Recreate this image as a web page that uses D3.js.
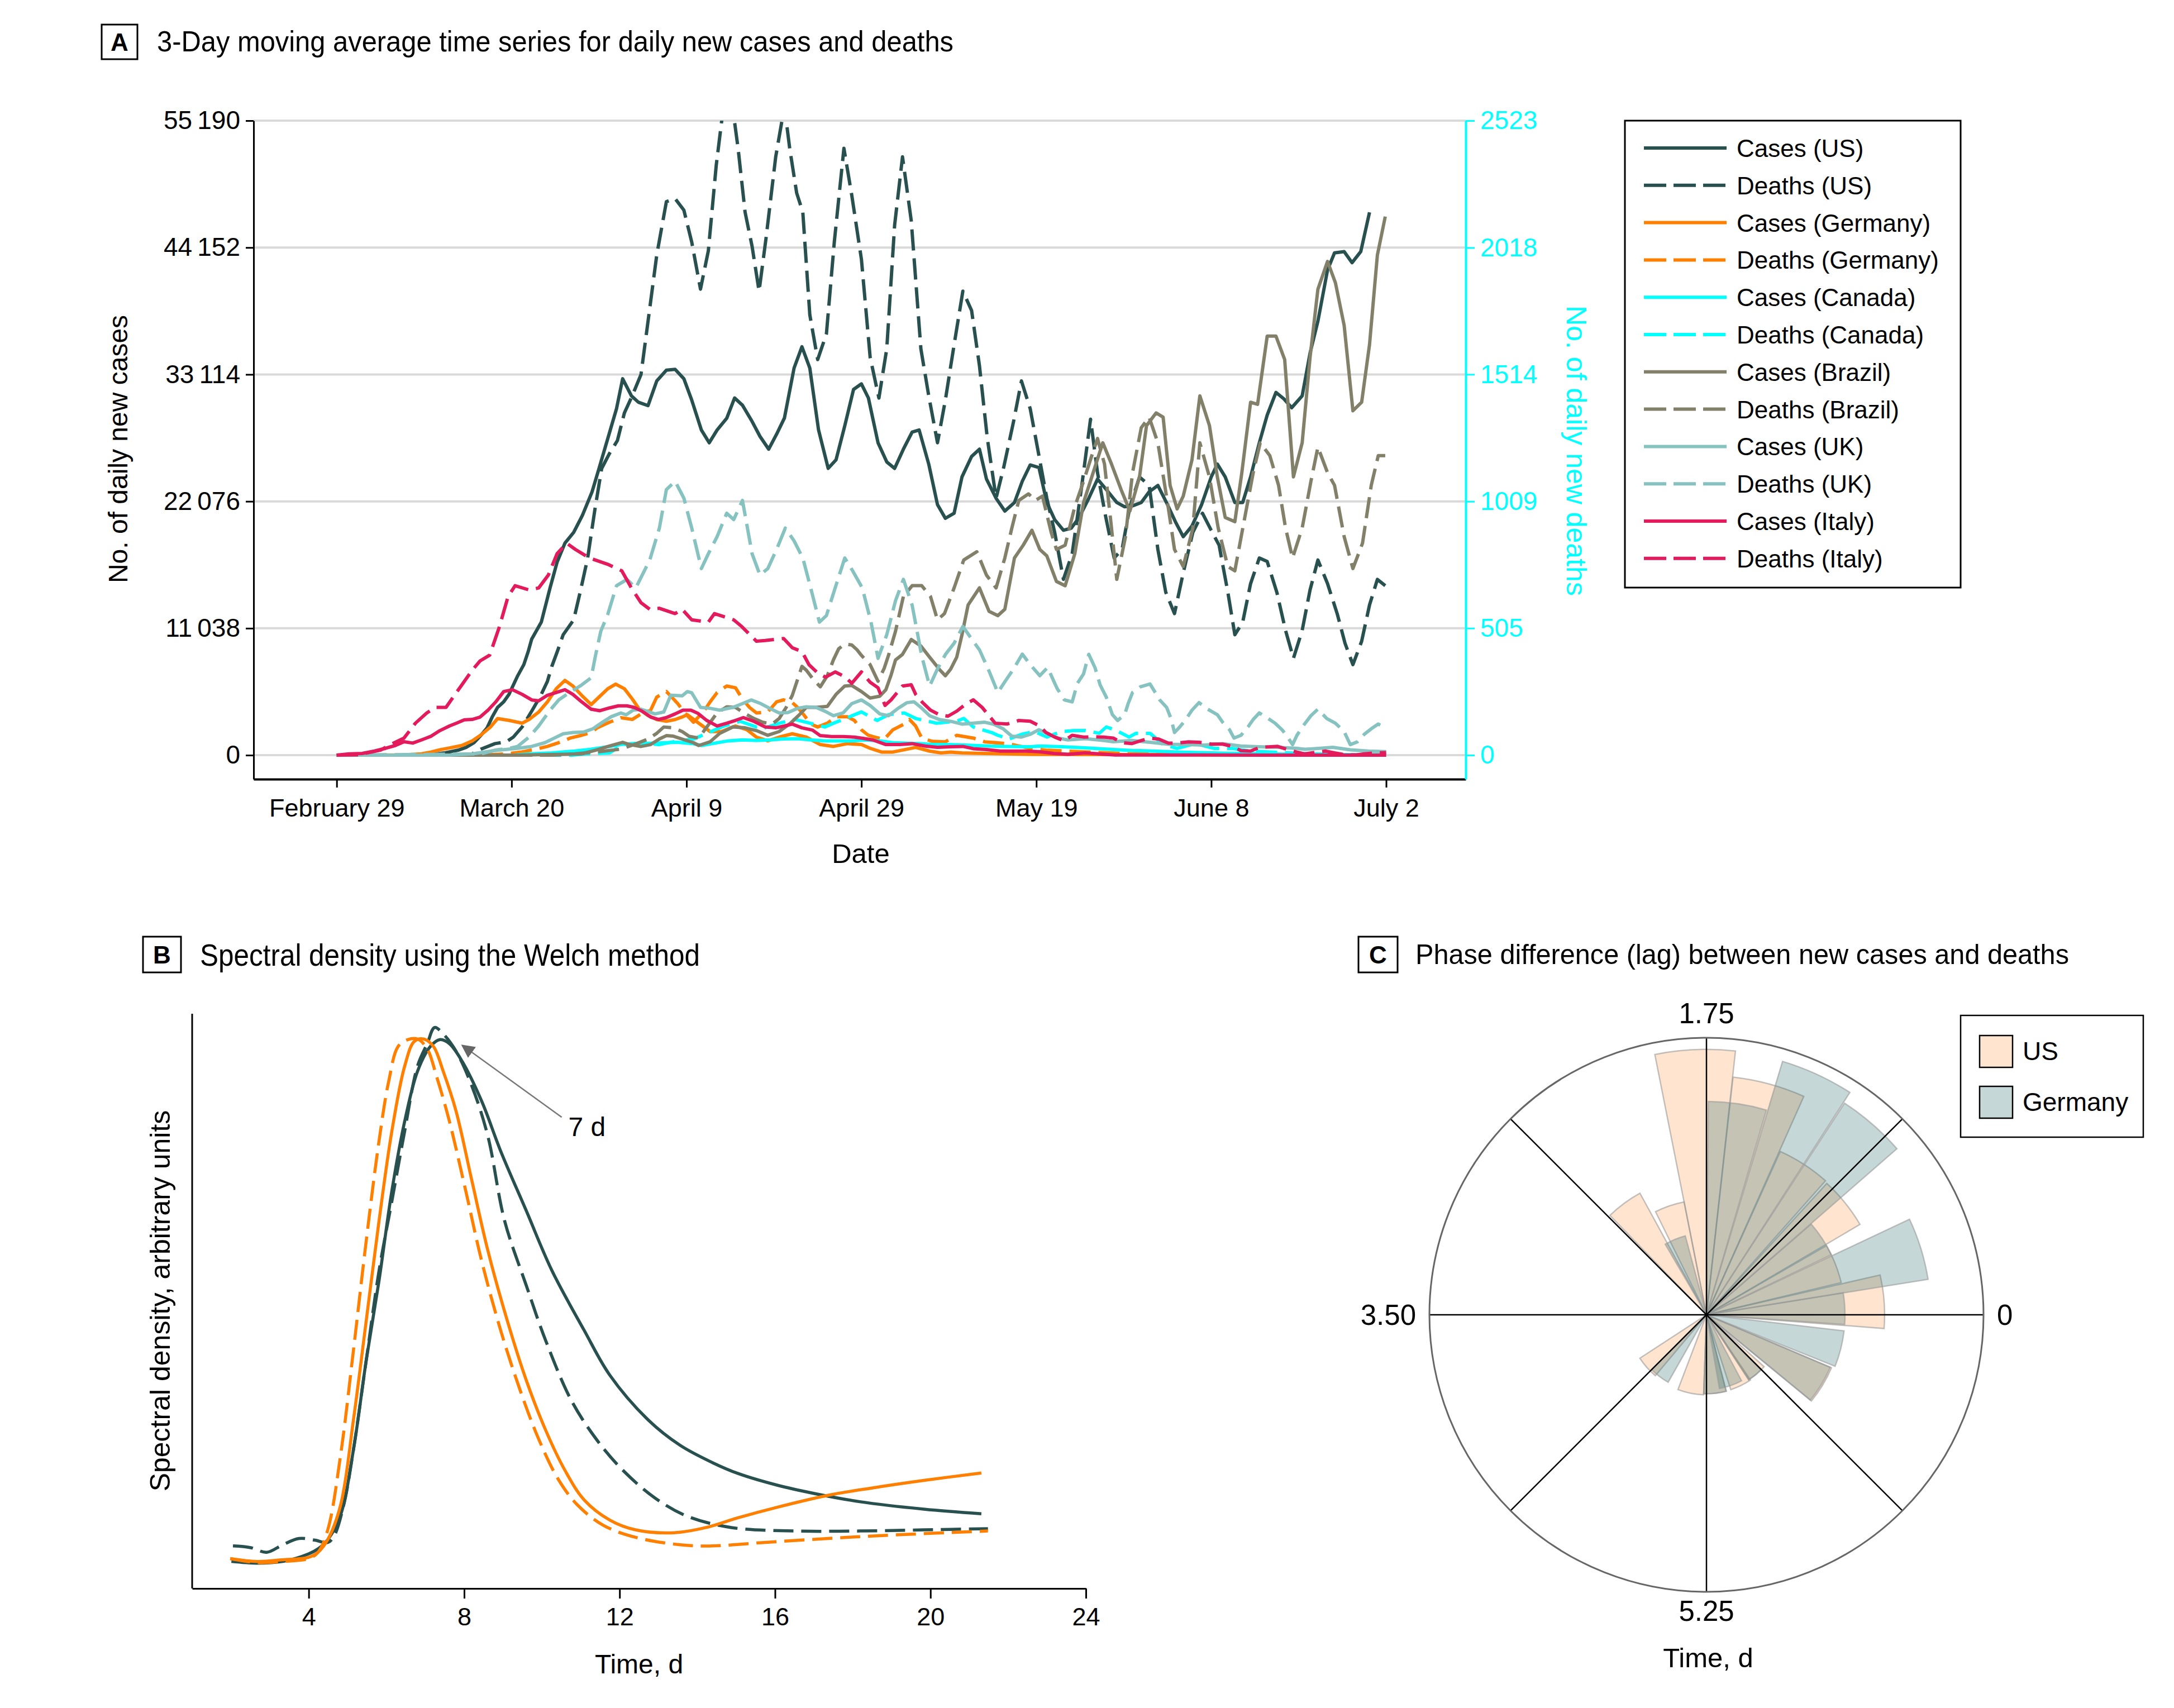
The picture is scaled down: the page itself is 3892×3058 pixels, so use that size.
<!DOCTYPE html>
<html><head><meta charset="utf-8">
<script src="https://cdn.jsdelivr.net/npm/d3@7"></script>
<style>
html,body{margin:0;padding:0;background:#fff;}
svg{display:block;}
text{font-family:"Liberation Sans",Arial,sans-serif;fill:#000;}
</style></head><body>
<svg id="chart" width="3892" height="3058"></svg>
<script>
// ---------------- Panel A data (day index from February 29, value) ----------------
const dateTickDays = [0, 20, 40, 60, 80, 100, 120];
const dateTickLabels = ["February 29", "March 20", "April 9", "April 29", "May 19", "June 8", "July 2"];
const caseTicks = [0, 11038, 22076, 33114, 44152, 55190];
const caseTickLabels = ["0", "11\u2009038", "22\u2009076", "33\u2009114", "44\u2009152", "55\u2009190"];
const deathTicks = [0, 505, 1009, 1514, 2018, 2523];

const usCases = [[0,0],[10.3,0],[12.3,194],[13.9,437],[14.8,680],[15.7,1084],[16.5,1731],[17.2,2378],[17.8,3349],[18.4,4158],[19.1,4644],[19.7,5291],[20.2,6100],[20.7,6909],[21.4,7880],[21.9,9012],[22.3,10100],[23.4,11581],[24.4,14551],[25.2,16778],[26.1,18449],[27.1,19377],[28.1,20861],[29.2,22903],[30.0,24945],[31.0,27543],[32.0,30141],[32.7,32740],[33.7,31255],[34.5,30698],[35.6,30401],[36.6,32554],[37.7,33482],[38.7,33556],[39.7,32740],[40.6,30884],[41.7,28286],[42.6,27172],[43.5,28286],[44.6,29300],[45.5,31070],[46.4,30438],[47.5,29028],[48.4,27729],[49.4,26615],[50.3,27914],[51.2,29325],[52.3,33668],[53.2,35524],[54.1,33668],[55.1,28286],[56.2,24945],[57.1,25687],[58.1,28657],[59.1,31813],[60.0,32294],[60.8,31070],[61.9,27172],[62.9,25502],[63.8,24945],[64.8,26615],[65.8,28100],[66.6,28286],[67.7,25316],[68.7,21790],[69.6,20602],[70.6,21047],[71.5,24202],[72.6,25984],[73.5,26615],[74.3,24017],[75.4,22346],[76.4,21233],[77.5,21975],[78.4,23831],[79.3,25242],[80.3,25019],[81.2,21975],[82.1,20490],[83.1,19562],[84.0,19748],[84.9,20676],[86.0,22346],[87.0,24017],[88.1,23014],[89.2,21975],[90.1,21604],[91.0,21678],[92.0,21975],[92.9,22903],[93.9,23460],[95.0,21790],[95.9,20305],[96.8,19005],[97.8,19933],[98.9,21790],[100.0,24202],[100.7,25316],[101.6,24202],[102.7,21975],[103.6,21975],[104.5,24202],[105.5,27172],[106.4,29585],[107.4,31552],[108.3,30995],[109.2,30216],[110.4,31255],[111.3,34967],[112.2,37751],[113.3,42205],[114.1,43690],[115.2,43802],[116.1,42836],[117.1,43802],[118.1,47217]];
const usDeaths = [[0,0],[13.4,0],[15.5,5],[16.5,24],[18.1,46],[19.4,53],[20.2,72],[21.2,112],[22.3,175],[23.3,235],[24.1,294],[24.6,353],[25.3,419],[25.9,479],[27.1,538],[27.9,657],[28.7,784],[29.5,971],[30.3,1140],[31.2,1200],[32.1,1251],[32.9,1361],[33.8,1429],[34.8,1514],[35.7,1751],[36.6,1989],[37.7,2201],[38.7,2213],[39.7,2167],[40.6,2040],[41.6,1853],[42.5,2006],[43.4,2345],[44.3,2600],[45.1,2620],[45.9,2413],[46.7,2159],[47.5,2023],[48.3,1845],[49.1,2057],[50.2,2379],[51.2,2580],[51.8,2413],[52.6,2235],[53.3,2159],[54.1,1751],[55.0,1573],[56.0,1675],[56.9,2040],[58.0,2413],[58.9,2226],[60.0,1972],[61.0,1582],[62.0,1420],[62.9,1616],[63.8,2108],[64.7,2379],[65.7,2125],[66.8,1616],[67.7,1429],[68.7,1242],[69.6,1412],[70.6,1632],[71.6,1845],[72.6,1768],[73.5,1548],[74.4,1259],[75.4,1022],[76.3,1149],[77.4,1327],[78.3,1488],[79.3,1378],[80.3,1191],[81.2,1022],[82.1,886],[83.1,699],[84.1,801],[85.2,1072],[86.2,1336],[87.0,1123],[87.9,954],[88.9,784],[89.8,818],[90.7,988],[91.8,1106],[92.9,1073],[93.9,818],[94.8,648],[95.8,563],[96.8,725],[97.9,886],[99.0,962],[100.0,894],[100.9,835],[101.9,648],[102.7,479],[103.6,529],[104.5,682],[105.5,784],[106.4,770],[107.5,648],[108.5,496],[109.4,385],[110.4,496],[111.3,657],[112.2,776],[113.3,682],[114.4,563],[115.3,445],[116.2,360],[117.2,453],[118.1,597],[119.0,699],[119.9,674]];
const germanyCases = [[0,0],[3.7,0],[7.7,32],[9.7,113],[10.8,275],[11.8,469],[12.9,631],[14.3,841],[15.5,1246],[16.5,1764],[17.6,2459],[18.4,3187],[19.7,3026],[21.2,2783],[22.0,3107],[23.1,3754],[24.1,4644],[25.1,5776],[26.1,6504],[27.0,6019],[28.0,5210],[29.1,4401],[30.1,5129],[31.0,5776],[31.9,6181],[32.9,5776],[33.8,4886],[34.6,3996],[35.6,3450],[36.6,3100],[37.7,2950],[38.7,3100],[39.6,3350],[40.1,3511],[41.4,2783],[42.7,2055],[44.0,2055],[45.6,2540],[46.9,2217],[48.0,1569],[49.3,1246],[50.6,1569],[52.1,1861],[53.7,1569],[55.3,922],[56.8,760],[58.4,1003],[60.0,922],[61.0,599],[62.3,275],[63.6,275],[65.2,518],[66.2,680],[67.8,356],[69.1,194],[70.2,275],[71.5,194],[74.1,146],[76.7,113],[79.3,81],[90.0,50],[100.0,30],[110.0,16],[120.0,10]];
const germanyDeaths = [[0,0],[16.5,0],[19.4,5],[21.2,13],[22.8,24],[24.1,35],[25.4,50],[26.7,68],[28.0,79],[29.1,90],[29.8,109],[31.2,131],[32.5,149],[33.8,142],[34.8,164],[35.9,179],[36.6,231],[37.7,253],[38.2,235],[39.0,205],[39.8,168],[40.8,131],[42.0,175],[42.7,212],[43.5,249],[44.6,275],[45.6,268],[46.4,223],[47.2,190],[48.0,168],[49.3,172],[50.3,212],[51.1,220],[52.1,209],[52.7,190],[53.4,161],[54.2,124],[55.0,112],[56.1,127],[57.1,153],[58.4,153],[59.2,138],[60.0,101],[60.8,79],[61.5,72],[62.6,63],[63.6,101],[64.9,124],[65.5,142],[66.2,116],[66.9,68],[68.1,55],[69.6,53],[70.9,79],[72.8,68],[74.1,53],[76.7,46],[79.3,27],[81.1,20],[90.9,5],[106.5,1],[120.0,0]];
const canadaCases = [[0,0],[20.2,0],[22.0,113],[24.6,194],[27.2,356],[29.1,518],[31.2,760],[32.5,922],[33.8,1003],[36.4,1052],[39.0,1116],[40.8,1000],[41.7,841],[43.3,1052],[44.8,1246],[46.4,1327],[48.0,1278],[49.5,1327],[51.1,1408],[52.7,1440],[54.2,1327],[55.8,1246],[57.4,1246],[58.9,1246],[60.5,1327],[62.1,1246],[63.6,1084],[65.2,1052],[66.8,1003],[68.3,922],[69.9,922],[71.5,890],[73.0,841],[74.6,793],[76.7,760],[79.3,728],[80.4,793],[83.0,728],[85.6,631],[88.3,518],[90.9,405],[93.5,356],[96.1,275],[98.7,227],[101.3,178],[103.9,146],[106.5,113],[109.2,81],[111.8,49],[114.4,32],[117.0,16],[120.0,16]];
const canadaDeaths = [[0,0],[27.0,0],[28.5,5],[31.2,9],[32.7,42],[34.6,48],[36.9,42],[39.0,57],[40.8,64],[44.3,116],[46.1,135],[48.0,112],[49.0,109],[50.6,127],[52.4,142],[53.7,131],[55.8,112],[56.8,127],[58.4,149],[60.0,172],[61.8,138],[63.1,161],[64.9,168],[66.2,146],[68.6,127],[70.9,135],[71.7,146],[72.8,112],[74.9,90],[75.6,79],[76.9,64],[78.3,83],[79.8,94],[81.2,72],[82.0,83],[83.0,94],[84.3,98],[85.6,98],[87.2,87],[88.0,112],[89.0,101],[90.6,72],[91.4,87],[93.0,87],[94.5,42],[96.1,27],[98.2,46],[100.3,27],[102.4,27],[104.5,16],[107.6,11],[111.8,5],[117.0,1],[120.0,1]];
const brazilCases = [[0,0],[20.7,0],[28.0,113],[29.8,469],[31.2,793],[32.7,1116],[33.5,922],[34.8,760],[35.9,922],[36.9,1408],[37.7,1699],[38.5,1650],[39.8,1327],[40.8,1084],[41.4,841],[42.7,1165],[43.8,1893],[45.3,2459],[46.7,2378],[48.0,2136],[49.3,1731],[50.6,2055],[51.9,2783],[52.9,3511],[53.7,4158],[54.8,4158],[56.1,4239],[57.1,5291],[58.1,6019],[58.9,6068],[60.0,5534],[61.0,4967],[62.1,5129],[62.8,5695],[63.4,6990],[63.9,8284],[64.7,8770],[65.7,10064],[66.8,9498],[67.8,8527],[68.9,7475],[69.6,6909],[70.2,7475],[70.9,8527],[71.5,10469],[72.2,13066],[73.5,14551],[74.6,12509],[75.6,12138],[76.4,12695],[77.5,17149],[78.5,18263],[79.5,19562],[80.4,17892],[81.2,17335],[82.3,15108],[83.3,14737],[84.4,17521],[85.4,21975],[86.5,24573],[87.6,27172],[88.6,25316],[89.7,23089],[90.7,21233],[91.8,24202],[92.6,28657],[93.7,29770],[94.5,29399],[95.3,23460],[96.1,21418],[96.8,22532],[97.8,25687],[98.7,31255],[99.8,28657],[100.7,24202],[101.6,20676],[102.7,20305],[103.5,24573],[104.5,30698],[105.3,30513],[106.4,36452],[107.4,36452],[108.4,34410],[109.4,24202],[110.4,27172],[111.3,34596],[112.2,40535],[113.3,42948],[114.2,41092],[115.2,37380],[116.2,29956],[117.2,30698],[118.1,35710],[119.0,43505],[119.9,46846]];
const brazilDeaths = [[0,0],[24.6,0],[27.2,5],[29.8,13],[32.5,24],[34.3,46],[35.6,64],[36.6,87],[37.4,112],[38.5,109],[39.5,94],[40.3,75],[41.4,68],[43.5,168],[44.6,192],[45.6,190],[46.9,161],[47.7,146],[48.7,131],[49.8,124],[50.6,146],[51.4,190],[52.1,238],[53.2,353],[53.7,338],[54.5,301],[55.3,272],[56.1,316],[56.8,379],[57.4,423],[58.1,442],[58.9,438],[59.5,419],[60.0,397],[61.0,360],[61.5,323],[61.9,294],[62.6,345],[63.1,397],[63.9,493],[64.8,631],[65.8,674],[66.9,674],[67.9,631],[68.7,538],[69.5,563],[70.6,665],[71.7,776],[73.2,809],[74.3,716],[75.4,665],[76.4,784],[77.2,903],[78.0,1013],[79.1,1039],[79.9,1013],[80.7,1030],[81.7,886],[82.3,818],[83.3,835],[84.4,988],[85.4,1089],[86.5,1208],[87.0,1259],[87.8,1157],[88.6,903],[89.2,699],[90.2,869],[91.0,1123],[92.0,1302],[92.9,1344],[93.9,1242],[95.0,1005],[95.8,818],[96.8,750],[97.9,903],[98.7,1242],[99.8,1106],[100.8,903],[101.9,750],[102.7,733],[103.7,920],[104.8,1123],[105.6,1242],[106.7,1191],[107.7,1073],[108.5,903],[109.3,784],[110.4,903],[111.4,1089],[112.2,1225],[113.3,1123],[114.1,1073],[115.2,869],[116.2,742],[117.3,843],[118.3,1073],[119.1,1191],[119.9,1191]];
const ukCases = [[0,0],[12.9,0],[15.5,113],[18.1,405],[20.7,599],[22.3,760],[23.8,1084],[24.9,1489],[25.9,1861],[27.0,1974],[28.3,2023],[29.3,2298],[30.4,2864],[31.4,3349],[32.5,3673],[33.1,3511],[33.9,3916],[34.8,3996],[36.4,3592],[37.4,3754],[38.2,5210],[39.5,5161],[40.1,5534],[40.6,5420],[41.6,4158],[42.7,4077],[43.8,3916],[45.3,4158],[46.4,4482],[47.4,4805],[48.5,4482],[49.5,4077],[50.6,3673],[51.6,3705],[52.7,4077],[53.7,4207],[54.8,4158],[55.8,3835],[56.8,3430],[57.9,3673],[58.9,4482],[60.0,4805],[61.0,4320],[62.1,3592],[63.1,3430],[64.2,4077],[65.2,4563],[66.0,4644],[66.8,4158],[67.8,3430],[68.9,3107],[70.2,2945],[71.5,2702],[72.8,2783],[74.1,2864],[75.1,2702],[76.2,2298],[77.2,1650],[78.3,1569],[79.3,1812],[80.3,2217],[81.5,1812],[82.5,1489],[83.6,1327],[85.6,1440],[87.7,1278],[88.8,1165],[90.9,1278],[93.0,1116],[95.1,955],[97.1,922],[99.2,874],[101.3,1003],[103.4,793],[105.5,728],[107.6,680],[109.7,599],[110.7,518],[111.8,566],[113.9,680],[115.9,469],[118.0,356],[120.0,307]];
const ukDeaths = [[0,0],[16.5,5],[18.1,20],[19.7,27],[20.7,35],[22.0,72],[23.1,116],[24.4,179],[25.4,220],[26.5,246],[28.0,279],[29.1,308],[29.6,397],[30.2,493],[31.0,560],[32.0,674],[33.2,699],[34.2,665],[35.8,776],[36.9,903],[37.7,1056],[38.7,1089],[39.7,1022],[40.6,903],[41.7,742],[42.5,801],[43.5,869],[44.6,962],[45.4,937],[46.4,1013],[47.5,801],[48.4,716],[49.3,742],[50.4,826],[51.3,903],[52.3,852],[53.3,784],[54.2,665],[55.2,529],[56.0,555],[57.0,665],[58.1,784],[59.0,733],[60.1,665],[61.1,529],[61.9,385],[62.9,479],[63.9,614],[64.8,699],[65.8,597],[66.9,394],[67.8,275],[68.7,343],[69.6,400],[70.6,445],[71.6,512],[72.6,462],[73.5,419],[74.6,334],[75.6,249],[76.4,292],[77.4,343],[78.4,402],[79.3,360],[80.4,316],[81.3,349],[82.0,294],[82.4,264],[83.2,220],[84.1,212],[84.7,286],[85.4,323],[86.0,401],[86.7,349],[87.3,279],[88.0,231],[88.7,161],[89.3,138],[90.1,161],[90.5,205],[91.0,249],[91.9,272],[93.0,283],[93.6,249],[94.1,220],[94.9,190],[95.4,146],[95.8,90],[96.4,112],[97.1,142],[97.8,179],[98.6,209],[99.6,183],[100.7,161],[101.3,131],[102.1,101],[102.6,68],[103.4,79],[104.2,112],[104.8,142],[105.5,168],[106.5,146],[107.3,127],[108.1,101],[108.6,79],[109.3,42],[109.8,79],[110.5,116],[111.4,157],[112.2,183],[113.2,146],[114.2,127],[115.2,94],[115.9,42],[116.7,53],[117.5,83],[118.3,105],[119.1,124],[120.0,105]];
const italyCases = [[0,0],[1.4,113],[2.9,146],[4.3,356],[5.6,599],[6.7,841],[7.7,1165],[8.7,1052],[9.7,1327],[10.8,1650],[11.8,2136],[12.9,2540],[13.7,2783],[14.6,3074],[15.5,3107],[16.4,3317],[17.3,3916],[18.2,4644],[19.1,5534],[20.1,5695],[21.2,5291],[22.3,4805],[23.1,4725],[24.1,5210],[25.1,5453],[26.1,5695],[27.0,5291],[28.0,4644],[29.1,3996],[30.1,3867],[31.2,4110],[32.2,4288],[33.2,4288],[34.0,4158],[34.9,3835],[35.9,3317],[36.8,3107],[37.7,3268],[38.7,3592],[39.6,3916],[40.5,3916],[41.3,3641],[42.3,3026],[43.5,2540],[44.6,2783],[45.6,3026],[46.5,3268],[47.7,2945],[49.0,2459],[50.2,2378],[51.2,2540],[52.1,2702],[53.2,2378],[54.4,2184],[55.3,1699],[56.6,1618],[57.9,1618],[59.2,1569],[60.2,1456],[61.3,1327],[62.8,922],[64.4,922],[65.8,1003],[67.3,793],[68.7,680],[70.2,728],[71.6,760],[72.8,566],[74.3,485],[75.9,356],[77.5,356],[78.8,356],[80.3,307],[82.0,146],[83.6,81],[85.6,194],[87.2,113],[89.0,16],[93.5,16],[98.7,16],[106.5,0],[120.0,0]];
const italyDeaths = [[0,0],[2.4,1],[5.0,20],[6.5,48],[7.7,68],[9.0,127],[10.3,168],[11.3,190],[12.5,190],[13.4,235],[14.3,279],[15.5,338],[16.4,375],[17.5,398],[18.6,510],[19.6,631],[20.4,674],[22.0,657],[23.1,665],[24.2,716],[25.2,801],[26.3,843],[27.3,818],[28.9,784],[31.0,759],[32.6,733],[33.7,665],[34.8,606],[35.8,580],[36.9,584],[38.7,563],[39.5,580],[40.6,538],[42.5,529],[43.2,563],[45.4,538],[46.3,512],[48.0,453],[49.0,456],[51.1,464],[52.1,427],[53.2,412],[54.0,360],[55.0,327],[55.9,310],[57.0,331],[58.1,312],[58.9,286],[60.0,331],[61.0,290],[61.9,268],[62.7,198],[63.4,220],[64.7,275],[65.7,280],[66.2,242],[67.0,209],[67.9,179],[68.9,161],[69.9,155],[70.9,175],[72.0,205],[72.8,220],[73.8,190],[75.3,127],[76.7,124],[78.0,138],[79.3,135],[80.4,116],[81.1,90],[82.1,72],[83.2,57],[84.1,79],[85.4,72],[86.7,73],[87.7,72],[88.8,68],[89.8,50],[90.9,46],[91.9,57],[93.0,68],[94.0,64],[95.1,48],[96.1,48],[97.4,53],[98.7,51],[100.0,44],[101.3,44],[102.4,35],[103.4,18],[104.5,16],[105.5,31],[106.5,33],[107.6,35],[108.6,24],[109.7,13],[110.7,5],[111.8,11],[113.1,16],[114.1,9],[115.4,1],[116.5,1],[117.5,5],[118.6,9],[120.0,10]];

const seriesNames = ["Cases (US)","Deaths (US)","Cases (Germany)","Deaths (Germany)","Cases (Canada)","Deaths (Canada)","Cases (Brazil)","Deaths (Brazil)","Cases (UK)","Deaths (UK)","Cases (Italy)","Deaths (Italy)"];

// ---------------- Panel B data (period in days, spectral density a.u.) ----------------
const bTicks = [4, 8, 12, 16, 20, 24];
const usCasesPSD = [[2.01,0.047],[2.67,0.044],[3.33,0.047],[3.99,0.060],[4.24,0.069],[4.49,0.085],[4.82,0.128],[5.15,0.241],[5.48,0.397],[5.81,0.536],[6.14,0.692],[6.47,0.813],[6.80,0.900],[7.13,0.943],[7.38,0.955],[7.62,0.948],[7.95,0.917],[8.45,0.848],[8.94,0.761],[9.60,0.657],[10.26,0.553],[11.09,0.449],[11.75,0.371],[12.74,0.293],[13.56,0.249],[14.39,0.219],[15.05,0.200],[16.04,0.180],[17.03,0.165],[18.18,0.151],[19.83,0.138],[21.31,0.130]];
const usDeathsPSD = [[2.05,0.074],[2.51,0.071],[2.92,0.063],[3.33,0.076],[3.75,0.087],[4.16,0.084],[4.49,0.080],[4.65,0.091],[4.90,0.145],[5.15,0.241],[5.48,0.397],[5.81,0.553],[6.14,0.674],[6.47,0.796],[6.80,0.909],[7.05,0.948],[7.24,0.976],[7.46,0.965],[7.79,0.935],[8.20,0.874],[8.61,0.787],[9.04,0.640],[9.60,0.527],[10.10,0.431],[10.76,0.327],[11.42,0.258],[12.08,0.206],[12.90,0.158],[13.73,0.126],[14.88,0.106],[16.53,0.100],[18.18,0.100],[19.83,0.102],[21.48,0.104]];
const deCasesPSD = [[1.98,0.052],[2.67,0.047],[3.33,0.050],[3.99,0.054],[4.24,0.063],[4.49,0.085],[4.82,0.145],[5.15,0.293],[5.48,0.466],[5.81,0.640],[6.14,0.796],[6.47,0.909],[6.72,0.952],[6.96,0.956],[7.21,0.943],[7.46,0.900],[7.79,0.831],[8.20,0.709],[8.61,0.588],[9.11,0.466],[9.60,0.362],[10.10,0.275],[10.59,0.206],[11.09,0.154],[11.75,0.119],[12.41,0.102],[13.40,0.097],[14.22,0.106],[15.05,0.123],[16.04,0.141],[17.36,0.162],[18.51,0.175],[19.83,0.188],[21.31,0.201]];
const deDeathsPSD = [[1.98,0.052],[2.67,0.045],[3.33,0.047],[3.99,0.052],[4.24,0.063],[4.49,0.102],[4.82,0.232],[5.15,0.414],[5.48,0.605],[5.81,0.779],[6.06,0.883],[6.30,0.943],[6.55,0.955],[6.80,0.956],[7.05,0.939],[7.29,0.891],[7.62,0.813],[8.04,0.692],[8.45,0.570],[8.94,0.449],[9.44,0.345],[9.93,0.258],[10.43,0.189],[10.92,0.145],[11.58,0.110],[12.41,0.089],[13.56,0.076],[14.39,0.074],[15.71,0.080],[17.36,0.087],[19.01,0.093],[21.48,0.100]];
const peakNote = {label: "7 d", tip: [7.95, 0.945], tail: [10.51, 0.820]};

// ---------------- Panel C data (lag in days: start, end; relative magnitude) ----------------
const polarTicks = [0, 1.75, 3.5, 5.25];
const polarTickLabels = ["0", "1.75", "3.50", "5.25"];
const usBars = [[1.628,1.968,0.958],[1.968,2.261,0.415],[2.308,2.609,0.50],[1.283,1.626,0.863],[0.941,1.277,0.647],[0.593,0.924,0.643],[0.261,0.583,0.50],[-0.086,0.251,0.643],[-0.766,-0.447,0.49],[-2.856,-2.528,0.287],[-2.156,-1.789,0.289],[-1.789,-1.468,0.285],[-1.40,-1.089,0.284],[-1.108,-0.817,0.28]];
const deBars = [[1.433,1.740,0.77],[1.112,1.425,0.955],[0.799,1.106,0.912],[0.50,0.795,0.50],[0.177,0.49,0.81],[-0.078,0.177,0.50],[-0.424,-0.130,0.50],[-0.766,-0.447,0.485],[2.042,2.339,0.295],[-2.625,-2.326,0.28],[-1.789,-1.468,0.285],[-1.556,-1.206,0.27],[-1.108,-0.875,0.28]];

// ================= drawing =================
const svg = d3.select("#chart");
svg.append("rect").attr("width", 3892).attr("height", 3058).attr("fill", "#fff");
const FONT = "'Liberation Sans', Arial, sans-serif";

function panelTitle(letter, bx, by, bw, bh, text, tx, ty, tlen, fs) {
  svg.append("rect").attr("x", bx).attr("y", by).attr("width", bw).attr("height", bh)
    .attr("fill", "#fff").attr("stroke", "#000").attr("stroke-width", 3);
  svg.append("text").attr("x", bx + bw / 2).attr("y", by + bh / 2 + 16).attr("text-anchor", "middle")
    .attr("font-size", 44).attr("font-weight", "bold").text(letter);
  svg.append("text").attr("x", tx).attr("y", ty).attr("font-size", fs)
    .attr("textLength", tlen).attr("lengthAdjust", "spacingAndGlyphs").text(text);
}

// ---------- Panel A ----------
panelTitle("A", 182, 44, 64, 62, "3-Day moving average time series for daily new cases and deaths", 281, 92, 1426, 52);

const xA = d3.scaleLinear().domain([-9.5, 129.1]).range([454, 2624]);
const yA = d3.scaleLinear().domain([-2086, 55190]).range([1395, 216]);
const yAR = d3.scaleLinear().domain([-2086 * 2523 / 55190, 2523]).range([1395, 216]);

const gA = svg.append("g");
gA.selectAll("line.grid").data(caseTicks).join("line").attr("class", "grid")
  .attr("x1", 454).attr("x2", 2624).attr("y1", d => yA(d)).attr("y2", d => yA(d))
  .attr("stroke", "#d9d9d9").attr("stroke-width", 4);

svg.append("clipPath").attr("id", "clipA").append("rect")
  .attr("x", 454).attr("y", 216).attr("width", 2170).attr("height", 1179);

const colUS = "#28504f", colDE = "#ff8000", colCA = "#00ffff", colBR = "#83806a", colUK = "#86c2c0", colIT = "#e31b5d";
const series = [
  {data: usCases, color: colUS, dash: false, deaths: false},
  {data: usDeaths, color: colUS, dash: true, deaths: true},
  {data: germanyCases, color: colDE, dash: false, deaths: false},
  {data: germanyDeaths, color: colDE, dash: true, deaths: true},
  {data: canadaCases, color: colCA, dash: false, deaths: false},
  {data: canadaDeaths, color: colCA, dash: true, deaths: true},
  {data: brazilCases, color: colBR, dash: false, deaths: false},
  {data: brazilDeaths, color: colBR, dash: true, deaths: true},
  {data: ukCases, color: colUK, dash: false, deaths: false},
  {data: ukDeaths, color: colUK, dash: true, deaths: true},
  {data: italyCases, color: colIT, dash: false, deaths: false},
  {data: italyDeaths, color: colIT, dash: true, deaths: true}
];
const linesG = svg.append("g").attr("clip-path", "url(#clipA)");
series.forEach(s => {
  const ys = s.deaths ? yAR : yA;
  const line = d3.line().x(d => xA(d[0])).y(d => ys(d[1]));
  linesG.append("path").datum(s.data).attr("d", line).attr("fill", "none")
    .attr("stroke", s.color).attr("stroke-width", 6).attr("stroke-linejoin", "round")
    .attr("stroke-dasharray", s.dash ? "38,14" : null);
});

// axes A
const axL = svg.append("g").attr("transform", "translate(454,0)")
  .call(d3.axisLeft(yA).tickValues(caseTicks).tickFormat((d, i) => caseTickLabels[i]).tickSize(14).tickPadding(10).tickSizeOuter(0));
axL.attr("font-size", 46).attr("font-family", FONT);
axL.select(".domain").attr("stroke", "#000").attr("stroke-width", 3);
axL.selectAll(".tick line").attr("stroke", "#000").attr("stroke-width", 3);
axL.selectAll(".tick text").attr("fill", "#000");

const axB = svg.append("g").attr("transform", "translate(0,1395)")
  .call(d3.axisBottom(xA).tickValues(dateTickDays).tickFormat((d, i) => dateTickLabels[i]).tickSize(15).tickPadding(20).tickSizeOuter(0));
axB.attr("font-size", 45).attr("font-family", FONT);
axB.select(".domain").attr("stroke", "#000").attr("stroke-width", 4);
axB.selectAll(".tick line").attr("stroke", "#000").attr("stroke-width", 3);
axB.selectAll(".tick text").attr("fill", "#000");

const axR = svg.append("g").attr("transform", "translate(2624,0)")
  .call(d3.axisRight(yAR).tickValues(deathTicks).tickFormat(d3.format("d")).tickSize(16).tickPadding(10).tickSizeOuter(0));
axR.attr("font-size", 46).attr("font-family", FONT);
axR.select(".domain").attr("stroke", "#00ffff").attr("stroke-width", 4);
axR.selectAll(".tick line").attr("stroke", "#00ffff").attr("stroke-width", 3);
axR.selectAll(".tick text").attr("fill", "#00ffff").style("fill", "#00ffff");

svg.append("text").attr("x", 1541).attr("y", 1545).attr("text-anchor", "middle").attr("font-size", 49).text("Date");
svg.append("text").attr("transform", "translate(228,804) rotate(-90)").attr("text-anchor", "middle")
  .attr("font-size", 48).text("No. of daily new cases");
svg.append("text").attr("transform", "translate(2805,807) rotate(90)").attr("text-anchor", "middle")
  .attr("font-size", 50).style("fill", "#00ffff").text("No. of daily new deaths");

// legend A
svg.append("rect").attr("x", 2909).attr("y", 216).attr("width", 601).attr("height", 836)
  .attr("fill", "#fff").attr("stroke", "#000").attr("stroke-width", 3);
series.forEach((s, i) => {
  const y = 265 + i * 66.8;
  svg.append("line").attr("x1", 2943).attr("x2", 3091).attr("y1", y).attr("y2", y)
    .attr("stroke", s.color).attr("stroke-width", 6).attr("stroke-dasharray", s.dash ? "40,13" : null);
  svg.append("text").attr("x", 3109).attr("y", y + 16).attr("font-size", 44)
    .attr("font-family", "'DejaVu Sans', sans-serif").text(seriesNames[i]);
});

// ---------- Panel B ----------
panelTitle("B", 256, 1677, 68, 64, "Spectral density using the Welch method", 358, 1729, 895, 56);
const xB = d3.scaleLinear().domain([1, 24]).range([344, 1944]);
const yB = d3.scaleLinear().domain([0, 1]).range([2844, 1815]);
const axBB = svg.append("g").attr("transform", "translate(0,2844)")
  .call(d3.axisBottom(xB).tickValues(bTicks).tickSize(18).tickPadding(16).tickSizeOuter(0));
axBB.attr("font-size", 45).attr("font-family", FONT);
axBB.select(".domain").attr("stroke", "#000").attr("stroke-width", 3);
axBB.selectAll(".tick line").attr("stroke", "#000").attr("stroke-width", 3);
axBB.selectAll(".tick text").attr("fill", "#000");
svg.append("line").attr("x1", xB(1)).attr("x2", xB(1)).attr("y1", yB(1)).attr("y2", yB(0))
  .attr("stroke", "#000").attr("stroke-width", 3);

const lineB = d3.line().x(d => xB(d[0])).y(d => yB(d[1])).curve(d3.curveCatmullRom.alpha(0.5));
[[usCasesPSD, colUS, false], [usDeathsPSD, colUS, true], [deCasesPSD, colDE, false], [deDeathsPSD, colDE, true]].forEach(([d, c, dash]) => {
  svg.append("path").datum(d).attr("d", lineB).attr("fill", "none").attr("stroke", c)
    .attr("stroke-width", 5.5).attr("stroke-dasharray", dash ? "36,14" : null);
});
svg.append("defs").append("marker").attr("id", "arr").attr("viewBox", "0 0 10 10")
  .attr("refX", 9).attr("refY", 5).attr("orient", "auto-start-reverse")
  .attr("markerUnits", "userSpaceOnUse").attr("markerWidth", 24).attr("markerHeight", 24)
  .append("path").attr("d", "M0,0 L10,5 L0,10 z").attr("fill", "#666");
svg.append("line").attr("x1", xB(peakNote.tail[0])).attr("y1", yB(peakNote.tail[1]))
  .attr("x2", xB(peakNote.tip[0])).attr("y2", yB(peakNote.tip[1]))
  .attr("stroke", "#777").attr("stroke-width", 2.5).attr("marker-end", "url(#arr)");
svg.append("text").attr("x", xB(peakNote.tail[0]) + 12).attr("y", yB(peakNote.tail[1]) + 34)
  .attr("font-size", 48).text(peakNote.label);
svg.append("text").attr("x", 1144).attr("y", 2996).attr("text-anchor", "middle").attr("font-size", 48).text("Time, d");
svg.append("text").attr("transform", "translate(304,2329) rotate(-90)").attr("text-anchor", "middle")
  .attr("font-size", 50).attr("font-family", "'DejaVu Sans', sans-serif").text("Spectral density, arbitrary units");

// ---------- Panel C ----------
panelTitle("C", 2432, 1677, 70, 64, "Phase difference (lag) between new cases and deaths", 2534, 1726, 1170, 50);
const cx = 3055, cy = 2354, R = 496;
const ang = d3.scaleLinear().domain([0, 7]).range([0, 2 * Math.PI]); // math angle, CCW from east
const rad = d3.scaleLinear().domain([0, 1]).range([0, R]);
const gC = svg.append("g").attr("transform", `translate(${cx},${cy})`);
const arcGen = d3.arc().innerRadius(0)
  .startAngle(d => Math.PI / 2 - ang(d[1])).endAngle(d => Math.PI / 2 - ang(d[0]))
  .outerRadius(d => rad(d[2]));
gC.selectAll("path.us").data(usBars).join("path").attr("class", "us").attr("d", arcGen)
  .attr("fill", "#ff7f0e").attr("fill-opacity", 0.2).attr("stroke", "#9a9a9a").attr("stroke-opacity", 0.6).attr("stroke-width", 2.5);
gC.selectAll("path.de").data(deBars).join("path").attr("class", "de").attr("d", arcGen)
  .attr("fill", "#2f6f6f").attr("fill-opacity", 0.28).attr("stroke", "#9a9a9a").attr("stroke-opacity", 0.6).attr("stroke-width", 2.5);
const spokes = d3.range(0, 7, 7 / 8);
gC.selectAll("line.spoke").data(spokes).join("line").attr("class", "spoke")
  .attr("x1", 0).attr("y1", 0)
  .attr("x2", d => R * Math.cos(ang(d))).attr("y2", d => -R * Math.sin(ang(d)))
  .attr("stroke", "#000").attr("stroke-width", 2.5);
gC.append("circle").attr("r", R).attr("fill", "none").attr("stroke", "#666").attr("stroke-width", 3);
polarTicks.forEach((t, i) => {
  const a = ang(t);
  let x = (R + 22) * Math.cos(a), y = -(R + 22) * Math.sin(a);
  let anchor = "middle", dy = 18;
  if (i === 0) { anchor = "start"; x += 2; }
  if (i === 2) { anchor = "end"; x -= 2; }
  if (i === 1) { dy = -4; }
  if (i === 3) { dy = 30; }
  gC.append("text").attr("x", x).attr("y", y + dy).attr("text-anchor", anchor).attr("font-size", 51).text(polarTickLabels[i]);
});
svg.append("text").attr("x", 3058).attr("y", 2985).attr("text-anchor", "middle").attr("font-size", 49).text("Time, d");

// legend C
svg.append("rect").attr("x", 3510).attr("y", 1818).attr("width", 327).attr("height", 218)
  .attr("fill", "#fff").attr("stroke", "#000").attr("stroke-width", 2.5);
[["US", "#ff7f0e", 0.2, 1854, 1898], ["Germany", "#2f6f6f", 0.28, 1945, 1989]].forEach(([lab, c, op, sy, ty]) => {
  svg.append("rect").attr("x", 3544).attr("y", sy).attr("width", 59).attr("height", 57)
    .attr("fill", c).attr("fill-opacity", op).attr("stroke", "#000").attr("stroke-width", 2.5);
  svg.append("text").attr("x", 3621).attr("y", ty).attr("font-size", 46).text(lab);
});
</script>
</body></html>
